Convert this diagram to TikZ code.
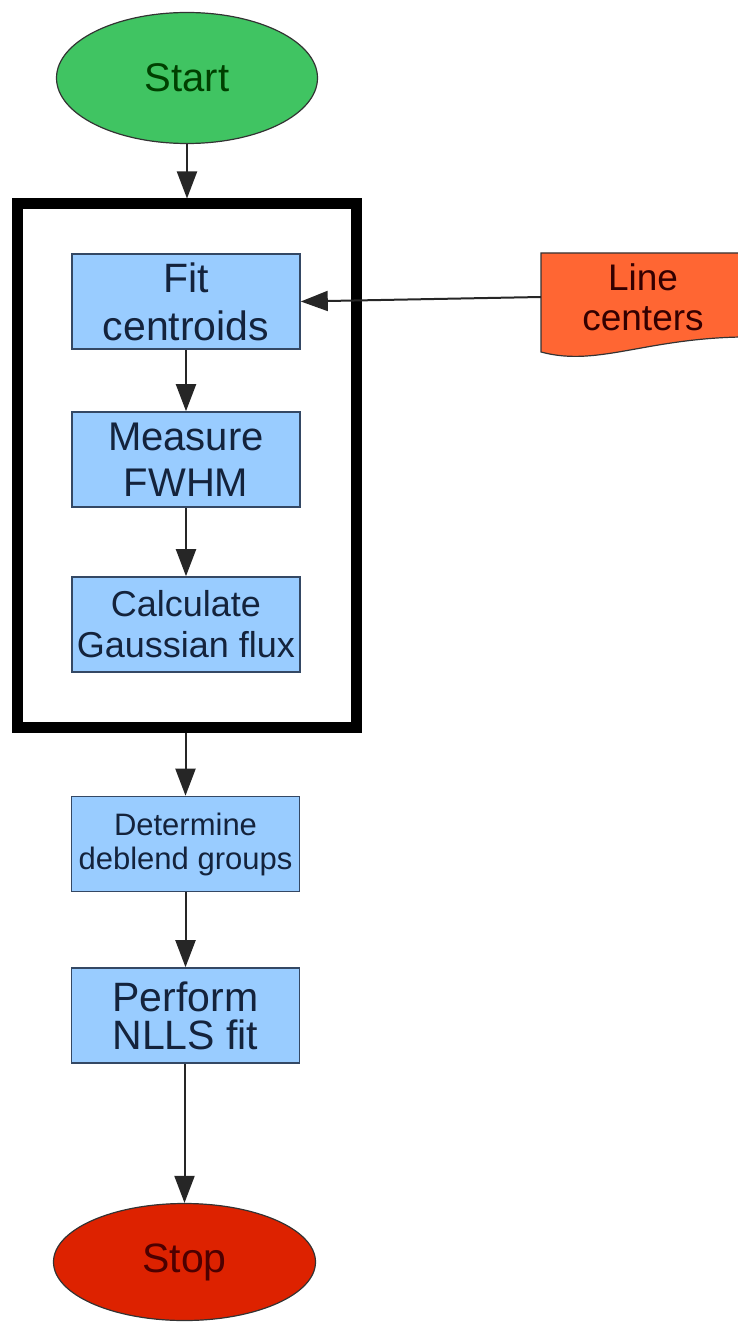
\documentclass[tikz,border=0pt]{standalone}
\usepackage{fontspec}
\setmainfont{Liberation Sans}
\usetikzlibrary{shapes.geometric,arrows.meta}

\definecolor{startgreen}{RGB}{64,196,98}
\definecolor{stopred}{RGB}{221,34,0}
\definecolor{boxblue}{RGB}{153,204,255}
\definecolor{boxline}{RGB}{52,72,100}
\definecolor{paperorange}{RGB}{255,102,51}
\definecolor{boxtext}{RGB}{20,35,60}

\begin{document}
\begin{tikzpicture}[x=1pt,y=-1pt,
    terminal/.style={ellipse, draw=black!80, line width=1.2pt, inner sep=0pt},
    procbox/.style={rectangle, draw=boxline, line width=1.6pt, fill=boxblue,
      minimum width=228pt, minimum height=95pt, inner sep=0pt, align=center, text=boxtext},
    flow/.style={-{Triangle[length=27pt,width=20pt]}, line width=2pt, draw=black!85}]
        \clip (0,0) rectangle (738,1332);

        % Inizio
        \node[terminal, fill=startgreen, minimum width=261pt, minimum height=131pt,
          text=black!75!green, font=\fontsize{40}{48}\selectfont] (start) at (187,78) {Start};

        % Ciclo sulle righe
        \node[draw=black, line width=11pt, minimum width=339pt, minimum height=523pt,
          inner sep=0pt] (loop) at (186.5,465.5) {};
        \node[procbox, font=\fontsize{41}{48}\selectfont] (fit) at (186,301.5) {Fit\\centroids};
        \node[procbox, font=\fontsize{40}{46}\selectfont] (fwhm) at (186,459.5) {Measure\\FWHM};
        \node[procbox, font=\fontsize{36}{41}\selectfont] (gauss) at (186,624.5) {Calculate\\Gaussian flux};

        % Dopo il ciclo
        \node[procbox, font=\fontsize{31}{34}\selectfont] (deblend) at (185.5,844) {Determine\\deblend groups};
        \node[procbox, font=\fontsize{41}{38}\selectfont] (nlls) at (185.5,1015.5) {Perform\\NLLS fit};

        % Fine
        \node[terminal, fill=stopred, minimum width=262pt, minimum height=117pt,
          text=black!70!red, font=\fontsize{41}{48}\selectfont] (stop) at (184.5,1262) {Stop};

        % Documento di ingresso
        \filldraw[fill=paperorange, draw=black!80, line width=1.2pt]
          (760,253) -- (541,253) -- (541,352)
          .. controls (600,368) and (650,335) .. (760,337) -- cycle;
        \node[minimum width=204pt, minimum height=88pt, inner sep=0pt, align=center,
          text=black!80!red, font=\fontsize{37}{40}\selectfont] (lines) at (643,297) {Line\\centers};

        % Frecce
        \draw[flow] (start.south) -- (start.south |- loop.north);
        \draw[flow] (fit) -- (fwhm);
        \draw[flow] (fwhm) -- (gauss);
        \draw[flow] (loop.south -| deblend.north) -- (deblend.north);
        \draw[flow] (deblend) -- (nlls);
        \draw[flow] (nlls.south -| stop.north) -- (stop.north);
        \draw[flow] (lines.west) -- (fit.east);
\end{tikzpicture}
\end{document}
